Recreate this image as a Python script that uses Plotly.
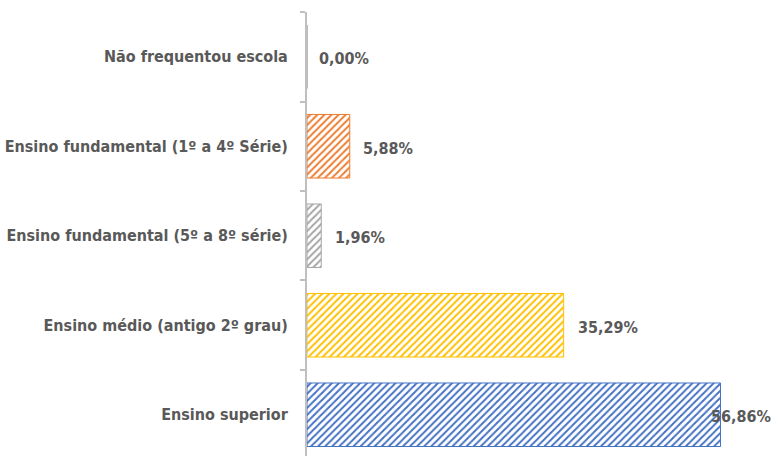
import plotly.graph_objects as go

categories = [
    "Ensino superior",
    "Ensino médio (antigo 2º grau)",
    "Ensino fundamental (5º a 8º série)",
    "Ensino fundamental (1º a 4º Série)",
    "Não frequentou escola",
]
values = [56.86, 35.29, 1.96, 5.88, 0.00]
labels = ["56,86%", "35,29%", "1,96%", "5,88%", "0,00%"]
line_colors = ["#4472C4", "#FFC000", "#A5A5A5", "#ED7D31", "#A5A5A5"]
bg_colors = ["#D3DEF2", "#FFEDB3", "#E8E8E8", "#FAD7BF", "#E8E8E8"]
label_shifts = [-12, 12, 12, 11, 10]

FONT = "DejaVu Sans Condensed, Liberation Sans Narrow, Arial Narrow, sans-serif"
GREY = "#595959"

fig = go.Figure()
fig.add_trace(go.Bar(
    y=categories,
    x=values,
    orientation="h",
    width=0.71,
    marker=dict(
        color=line_colors,
        line=dict(color=line_colors, width=1),
        pattern=dict(shape="/", fgcolor=line_colors, bgcolor=bg_colors,
                     size=5, solidity=0.4, fillmode="replace"),
    ),
    hoverinfo="skip",
))

for cat, val, lab, sh in zip(categories, values, labels, label_shifts):
    fig.add_annotation(
        x=val, y=cat, text=lab, showarrow=False,
        xanchor="left", yanchor="middle", xshift=sh, yshift=-2,
        font=dict(family=FONT, size=16, color=GREY, weight="bold"),
    )

fig.update_layout(
    width=771, height=456,
    margin=dict(l=307, r=0, t=12, b=0),
    paper_bgcolor="white", plot_bgcolor="white",
    showlegend=False,
    bargap=0.29,
    hovermode=False,
    xaxis=dict(range=[0, 63.8], visible=False, fixedrange=True),
    yaxis=dict(
        type="category",
        categoryorder="array", categoryarray=categories,
        range=[-0.461, 4.5],
        automargin=False, fixedrange=True,
        showline=True, linecolor="#BFBFBF", linewidth=2,
        ticks="outside", ticklen=5, tickcolor="#BFBFBF", tickwidth=2,
        tickson="boundaries",
        showgrid=False, zeroline=False,
        ticklabelstandoff=14,
        tickfont=dict(family=FONT, size=16, color=GREY, weight="bold"),
    ),
)

fig.write_html(
    "out.html",
    config={"displayModeBar": False, "staticPlot": True},
    post_script="document.body.style.margin='0';document.body.style.padding='0';",
)
